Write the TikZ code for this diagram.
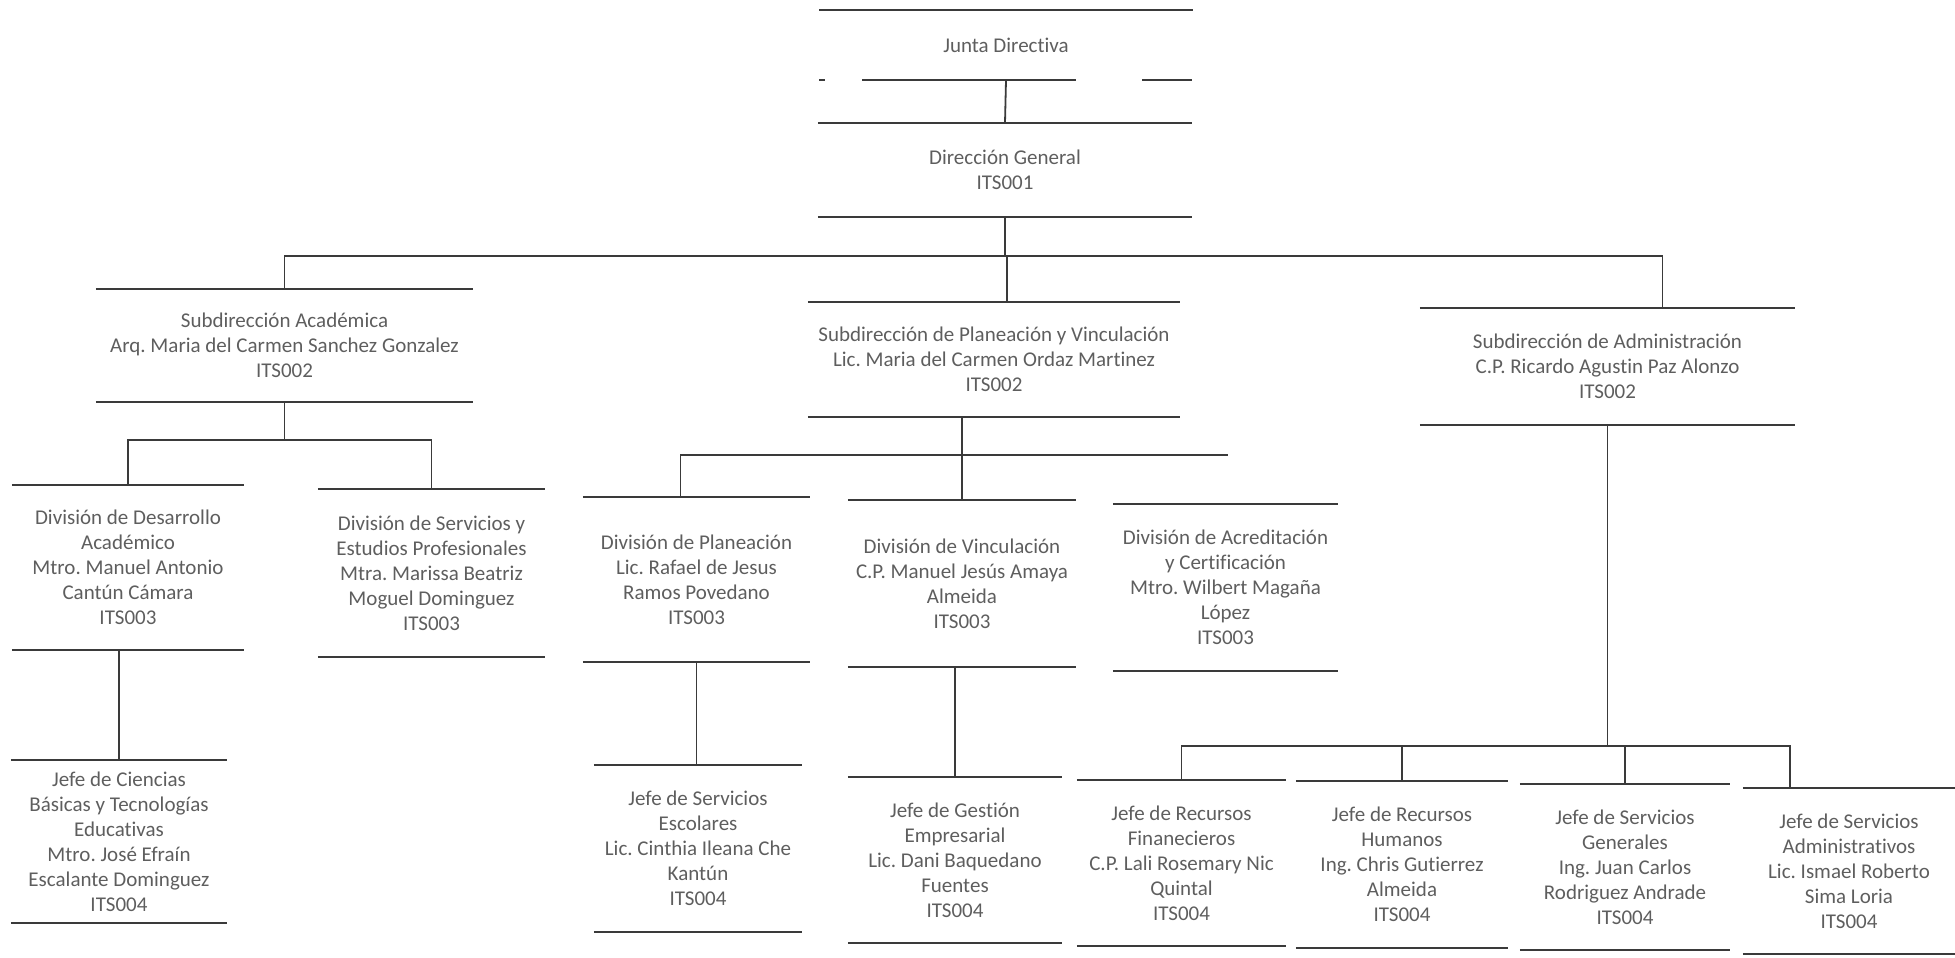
\documentclass[tikz,border=0pt]{standalone}
\usepackage{fontspec}
\setmainfont{Carlito}[Ligatures=NoCommon]
\usetikzlibrary{positioning}
\definecolor{inkgray}{HTML}{5E5E5E}
\definecolor{rulegray}{HTML}{3A3A3A}
\newcommand{\boxfont}{\fontsize{21}{25}\selectfont\frenchspacing}

\begin{document}
\begin{tikzpicture}[x=1pt, y=-1pt,
	boxline/.style={draw=rulegray, line width=2pt},
	link/.style={draw=rulegray, line width=1.8pt},
	boxsize/.style 2 args={minimum width=#1pt, minimum height=#2pt},
	orgtext/.style={align=center, inner sep=0pt, text=inkgray, font=\boxfont},
	orgbox/.style={orgtext,
		append after command={(\tikzlastnode.north west) edge[boxline] (\tikzlastnode.north east)
			(\tikzlastnode.south west) edge[boxline] (\tikzlastnode.south east)}}]
	\useasboundingbox (0,0) rectangle (1955,958);
	
	% Junta Directiva
	\node[orgtext, boxsize={373}{70}] (jd) at (1006,45) {Junta Directiva};
	\draw[boxline] (jd.north west) -- (jd.north east);
	\draw[boxline, dash pattern=on 6pt off 37pt on 214pt off 66pt on 50pt] (jd.south west) -- (jd.south east);
	
	% Direccion
	\node[orgbox, boxsize={374}{94}] (dg) at (1005,170) {Dirección General\\ITS001};
	
	% Subdirecciones
	\node[orgbox, boxsize={377}{113}] (sa) at (284.5,345.5) {Subdirección Académica\\Arq. Maria del Carmen Sanchez Gonzalez\\ITS002};
	\node[orgbox, boxsize={372}{115}] (spv) at (994,359.5) {Subdirección de Planeación y Vinculación\\Lic. Maria del Carmen Ordaz Martinez\\ITS002};
	\node[orgbox, boxsize={375}{117}] (sad) at (1607.5,366.5) {Subdirección de Administración\\C.P. Ricardo Agustin Paz Alonzo\\ITS002};
	
	% Divisiones
	\node[orgbox, boxsize={232}{165}] (dda) at (128,567.5) {División de Desarrollo\\Académico\\Mtro. Manuel Antonio\\Cantún Cámara\\ITS003};
	\node[orgbox, boxsize={227}{168}] (dsep) at (431.5,573) {División de Servicios y\\Estudios Profesionales\\Mtra. Marissa Beatriz\\Moguel Dominguez\\ITS003};
	\node[orgbox, boxsize={227}{165}] (dp) at (696.5,579.5) {División de Planeación\\Lic. Rafael de Jesus\\Ramos Povedano\\ITS003};
	\node[orgbox, boxsize={228}{167}] (dv) at (962,583.5) {División de Vinculación\\C.P. Manuel Jesús Amaya\\Almeida\\ITS003};
	\node[orgbox, boxsize={225}{167}] (dac) at (1225.5,587.5) {División de Acreditación\\y Certificación\\Mtro. Wilbert Magaña\\López\\ITS003};
	
	% Jefaturas
	\node[orgbox, boxsize={216}{163}] (jcb) at (119,841.5) {Jefe de Ciencias\\Básicas y Tecnologías\\Educativas\\Mtro. José Efraín\\Escalante Dominguez\\ITS004};
	\node[orgbox, boxsize={208}{167}] (jse) at (698,848.5) {Jefe de Servicios\\Escolares\\Lic. Cinthia Ileana Che\\Kantún\\ITS004};
	\node[orgbox, boxsize={214}{166}] (jge) at (955,860) {Jefe de Gestión\\Empresarial\\Lic. Dani Baquedano\\Fuentes\\ITS004};
	\node[orgbox, boxsize={209}{166}] (jrf) at (1181.5,863) {Jefe de Recursos\\Finanecieros\\C.P. Lali Rosemary Nic\\Quintal\\ITS004};
	\node[orgbox, boxsize={212}{167}] (jrh) at (1402,864.5) {Jefe de Recursos\\Humanos\\Ing. Chris Gutierrez\\Almeida\\ITS004};
	\node[orgbox, boxsize={210}{166}] (jsg) at (1625,867) {Jefe de Servicios\\Generales\\Ing. Juan Carlos\\Rodriguez Andrade\\ITS004};
	\node[orgbox, boxsize={212}{166}] (jsa) at (1849,871) {Jefe de Servicios\\Administrativos\\Lic. Ismael Roberto\\Sima Loria\\ITS004};
	
	% Lineas
	\coordinate (bus1) at (1008,256);
	\coordinate (bus2) at (288,440);
	\coordinate (bus3) at (1228,455);
	\coordinate (bus4) at (1602,746);
	
	\draw[link] (jd.south) -- (dg.north);
	\draw[link] (dg.south) -- (dg.south |- bus1);
	\draw[link] (sa.north) |- ([xshift=55pt]sad.north |- bus1) -- ([xshift=55pt]sad.north);
	\draw[link] ([xshift=13pt]spv.north) -- ([xshift=13pt]spv.north |- bus1);
	
	\draw[link] (sa.south) -- (sa.south |- bus2);
	\draw[link] (dda.north) |- (dsep.north |- bus2) -- (dsep.north);
	\draw[link] (dda.south -| jcb.north) -- (jcb.north);
	
	\draw[link] (spv.south -| dv.north) -- (dv.north);
	\draw[link] ([xshift=-16pt]dp.north) |- (bus3);
	\draw[link] (dp.south) -- (dp.south |- jse.north);
	\draw[link] (dv.south -| jge.north) -- (jge.north);
	
	\draw[link] (sad.south) -- (sad.south |- bus4);
	\draw[link] (jrf.north) |- ([xshift=-59pt]jsa.north |- bus4) -- ([xshift=-59pt]jsa.north);
	\draw[link] (jrh.north) -- (jrh.north |- bus4);
	\draw[link] (jsg.north) -- (jsg.north |- bus4);
\end{tikzpicture}
\end{document}
